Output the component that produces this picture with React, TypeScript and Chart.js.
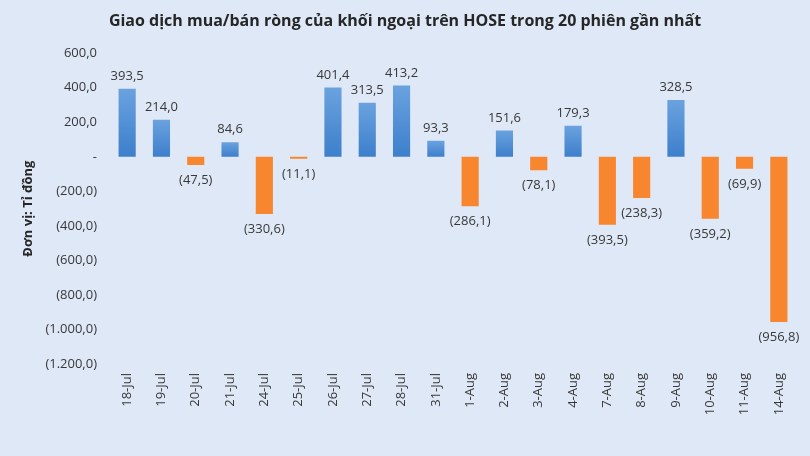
import React, { useEffect, useRef } from "react";
import { Chart, registerables } from "chart.js";

Chart.register(...registerables);

const TITLE = "Giao dịch mua/bán ròng của khối ngoại trên HOSE trong 20 phiên gần nhất";
const Y_TITLE = "Đơn vị: Tỉ đồng";

const categories = [
  "18-Jul", "19-Jul", "20-Jul", "21-Jul", "24-Jul", "25-Jul", "26-Jul", "27-Jul", "28-Jul", "31-Jul",
  "1-Aug", "2-Aug", "3-Aug", "4-Aug", "7-Aug", "8-Aug", "9-Aug", "10-Aug", "11-Aug", "14-Aug",
];

const netValues = [
  393.5, 214.0, -47.5, 84.6, -330.6, -11.1, 401.4, 313.5, 413.2, 93.3,
  -286.1, 151.6, -78.1, 179.3, -393.5, -238.3, 328.5, -359.2, -69.9, -956.8,
];

const yMin = -1200;
const yMax = 600;
const yStep = 200;

const BG = "#dfe8f6";
const TEXT = "#383838";
const ORANGE = "#f7862f";
const BLUE_TOP = "#6aa2de";
const BLUE_BOTTOM = "#3d7fcc";

function fmtNum(v: number): string {
  const abs = Math.abs(v);
  const fixed = abs.toFixed(1);
  const [intPart, dec] = fixed.split(".");
  const withSep = intPart.replace(/\B(?=(\d{3})+(?!\d))/g, ".");
  return withSep + "," + dec;
}

function fmtTick(v: number): string {
  if (v === 0) return "-";
  if (v < 0) return "(" + fmtNum(v) + ")";
  return fmtNum(v);
}

const dataLabelPlugin = {
  id: "dataLabels",
  afterDatasetsDraw(chart: any) {
    const ctx = chart.ctx;
    const meta = chart.getDatasetMeta(0);
    ctx.save();
    ctx.font = "13px 'Open Sans', sans-serif";
    ctx.fillStyle = TEXT;
    ctx.textAlign = "center";
    meta.data.forEach((bar: any, i: number) => {
      const v = netValues[i];
      const txt = fmtTick(v);
      if (v >= 0) {
        ctx.textBaseline = "bottom";
        ctx.fillText(txt, bar.x, bar.y - 6);
      } else {
        ctx.textBaseline = "top";
        ctx.fillText(txt, bar.x, bar.y + 9);
      }
    });
    ctx.restore();
  },
};

const bgPlugin = {
  id: "bgFill",
  beforeDraw(chart: any) {
    const ctx = chart.ctx;
    ctx.save();
    ctx.fillStyle = BG;
    ctx.fillRect(0, 0, chart.width, chart.height);
    ctx.restore();
  },
};

export default function App() {
  const ref = useRef<HTMLCanvasElement | null>(null);

  useEffect(() => {
    document.body.style.margin = "0";
    document.body.style.background = BG;
    if (!ref.current) return;
    const chart = new Chart(ref.current, {
      type: "bar",
      data: {
        labels: categories,
        datasets: [
          {
            data: netValues,
            barPercentage: 0.5,
            categoryPercentage: 1,
            backgroundColor: (c: any) => {
              const v = c.raw as number;
              if (v < 0) return ORANGE;
              const ch = c.chart;
              const ys = ch.scales?.y;
              if (!ys) return BLUE_BOTTOM;
              const top = ys.getPixelForValue(v);
              const base = ys.getPixelForValue(0);
              if (!isFinite(top) || !isFinite(base) || top === base) return BLUE_BOTTOM;
              const g = ch.ctx.createLinearGradient(0, top, 0, base);
              g.addColorStop(0, BLUE_TOP);
              g.addColorStop(1, BLUE_BOTTOM);
              return g;
            },
            borderWidth: 0,
          },
        ],
      },
      options: {
        animation: false,
        responsive: false,
        maintainAspectRatio: false,
        layout: { padding: { left: 14, right: 14, top: 0, bottom: 0 } },
        plugins: {
          legend: { display: false },
          tooltip: { enabled: false },
          title: {
            display: true,
            text: TITLE,
            color: "#262626",
            font: { family: "'Open Sans', sans-serif", size: 16, weight: "bold" },
            padding: { top: 12, bottom: 22 },
          },
        },
        scales: {
          x: {
            grid: { display: false, drawTicks: false },
            border: { display: false },
            ticks: {
              color: TEXT,
              font: { family: "'Open Sans', sans-serif", size: 13 },
              minRotation: 90,
              maxRotation: 90,
              padding: 9,
            },
            afterFit: (s: any) => {
              s.height = 92;
            },
          },
          y: {
            min: yMin,
            max: yMax,
            grid: { display: false, drawTicks: false },
            border: { display: false },
            title: {
              display: true,
              text: Y_TITLE,
              color: "#262626",
              font: { family: "'Open Sans', sans-serif", size: 13, weight: "bold" },
              padding: { top: 6, bottom: 0 },
            },
            ticks: {
              stepSize: yStep,
              color: TEXT,
              font: { family: "'Open Sans', sans-serif", size: 13 },
              padding: 13,
              callback: (v: any) => fmtTick(Number(v)),
            },
            afterFit: (s: any) => {
              s.width = 96;
            },
          },
        },
      },
      plugins: [bgPlugin, dataLabelPlugin],
    });
    return () => chart.destroy();
  }, []);

  return (
    <div style={{ width: 810, height: 456, background: BG }}>
      <canvas ref={ref} width={810} height={456} style={{ display: "block" }} />
    </div>
  );
}
